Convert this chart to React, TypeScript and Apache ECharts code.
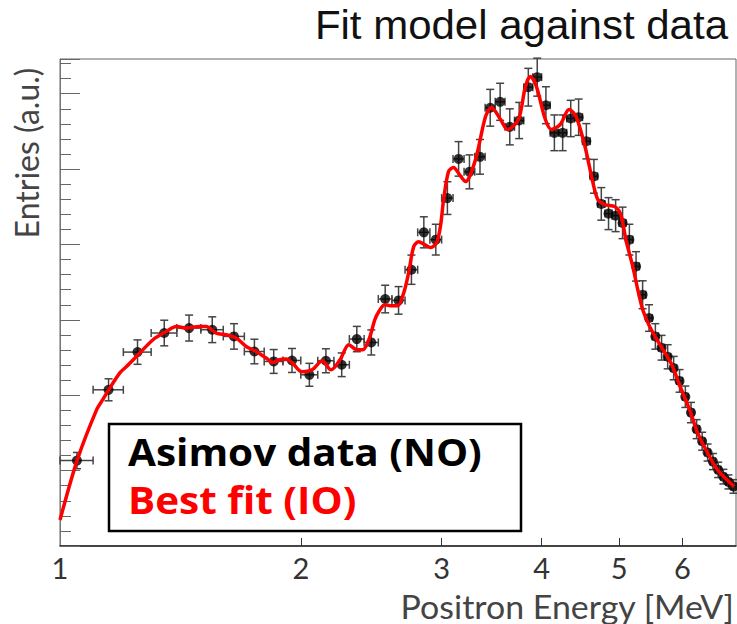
import React, { useEffect, useRef } from "react";
import * as echarts from "echarts";

// Bin centres of the positron energy histogram [MeV]
const energy = [
  1.05, 1.15, 1.25, 1.35, 1.45, 1.55, 1.65, 1.75, 1.85, 1.95,
  2.05, 2.15, 2.25, 2.35, 2.45, 2.55, 2.65, 2.75, 2.85, 2.95,
  3.05, 3.15, 3.25, 3.35, 3.45, 3.55, 3.65, 3.75, 3.85, 3.95,
  4.05, 4.15, 4.25, 4.35, 4.45, 4.55, 4.65, 4.75, 4.85, 4.95,
  5.05, 5.15, 5.25, 5.35, 5.45, 5.55, 5.65, 5.75, 5.85, 5.95,
  6.05, 6.15, 6.25, 6.35, 6.45, 6.55, 6.65, 6.75, 6.85, 6.95,
];
// Asimov data (NO) entries, arbitrary units
const entries = [
  11.33, 20.72, 25.72, 28.25, 28.91, 28.69, 27.8, 25.8, 24.48, 24.61,
  22.71, 24.57, 24.04, 27.45, 27.0, 32.76, 32.58, 36.65, 41.61, 40.64,
  46.15, 51.35, 49.63, 51.62, 58.13, 58.92, 55.6, 56.44, 60.86, 62.19,
  58.47, 54.81, 54.81, 56.71, 56.88, 53.69, 49.04, 45.38, 44.09, 43.82,
  42.86, 40.64, 37.09, 33.33, 30.24, 27.8, 26.3, 25.1, 23.6, 21.9,
  19.8, 17.7, 15.5, 13.9, 12.4, 11.2, 10.1, 9.2, 8.5, 7.9,
];
const entryErr = [
  1.08, 1.46, 1.62, 1.7, 1.72, 1.71, 1.69, 1.63, 1.58, 1.59,
  1.52, 1.59, 1.57, 1.68, 1.66, 1.83, 1.83, 1.94, 2.06, 2.04,
  2.17, 2.29, 2.25, 2.3, 2.44, 2.46, 2.39, 2.4, 2.5, 2.52,
  2.45, 2.37, 2.37, 2.41, 2.41, 2.34, 2.24, 2.16, 2.12, 2.12,
  2.09, 2.04, 1.95, 1.85, 1.76, 1.69, 1.64, 1.6, 1.55, 1.5,
  1.42, 1.35, 1.26, 1.19, 1.13, 1.07, 1.02, 0.97, 0.93, 0.9,
];
const binHalfWidth = 0.05;

// Best fit (IO) model curve
const fitEnergy = [
  1.0, 1.051, 1.111, 1.132, 1.154, 1.188, 1.211, 1.258, 1.307, 1.358,
  1.398, 1.438, 1.494, 1.523, 1.568, 1.613, 1.661, 1.709, 1.759, 1.81,
  1.844, 1.88, 1.917, 1.953, 2.007, 2.066, 2.127, 2.182, 2.239, 2.297,
  2.35, 2.391, 2.433, 2.475, 2.503, 2.547, 2.599, 2.644, 2.69, 2.728,
  2.768, 2.808, 2.857, 2.906, 2.957, 2.991, 3.017, 3.06, 3.104, 3.158,
  3.213, 3.307, 3.404, 3.463, 3.554, 3.626, 3.742, 3.818, 3.873, 3.94,
  4.044, 4.114, 4.221, 4.329, 4.417, 4.532, 4.637, 4.704, 4.8, 4.939,
  5.025, 5.098, 5.201, 5.276, 5.352, 5.461, 5.641, 5.805, 5.972, 6.126,
  6.268, 6.45, 6.638, 6.963,
];
const fitValue = [
  3.45, 11.42, 18.06, 19.48, 20.94, 22.97, 23.81, 25.59, 27.36, 28.46,
  29.12, 28.91, 29.12, 29.12, 28.25, 28.02, 27.58, 26.47, 25.8, 24.93,
  24.34, 24.7, 24.79, 24.26, 23.11, 23.37, 24.57, 23.37, 24.7, 26.69,
  26.03, 26.03, 27.36, 30.01, 31.08, 32.01, 31.87, 31.87, 33.6, 36.25,
  39.71, 40.37, 39.97, 39.58, 40.24, 42.56, 45.95, 49.67, 50.2, 49.27,
  48.34, 51.26, 56.97, 58.17, 56.57, 55.25, 56.57, 60.96, 62.28, 60.96,
  56.57, 55.25, 55.91, 57.9, 56.97, 52.99, 48.21, 45.95, 45.29, 45.02,
  43.96, 40.64, 37.05, 34.0, 31.34, 29.08, 26.47, 24.26, 20.94, 18.06,
  15.01, 12.35, 10.09, 7.88,
];

const xTickValues = [2, 3, 4, 5, 6];
const xLabelValues = [1, 2, 3, 4, 5, 6];

export default function App() {
  const ref = useRef<HTMLDivElement>(null);
  useEffect(() => {
    document.body.style.margin = "0";
    const chart = echarts.init(ref.current as HTMLDivElement, null, { renderer: "svg" });
    const errData = energy.map((e, i) => [e, entries[i], entryErr[i]]);
    chart.setOption({
      animation: false,
      grid: {
        left: 60,
        right: 1,
        top: 59,
        bottom: 78,
        show: true,
        borderColor: "#666",
        borderWidth: 1,
        backgroundColor: "transparent",
      },
      xAxis: {
        type: "log",
        logBase: 10,
        min: 1,
        max: 7,
        axisLine: { show: true, lineStyle: { color: "#222", width: 1.5 } },
        axisTick: {
          show: true,
          inside: true,
          length: 8,
          customValues: xTickValues,
          lineStyle: { color: "#333" },
        },
        axisLabel: {
          customValues: xLabelValues,
          color: "#333",
          fontSize: 29,
          fontFamily: "Lato",
          margin: 7,
          formatter: (v: number) => String(v),
        },
        splitLine: { show: false },
        minorTick: { show: false },
      },
      yAxis: {
        type: "value",
        min: 0,
        max: 64.6,
        interval: 10,
        axisLine: { show: true, lineStyle: { color: "#777" } },
        axisTick: { show: true, inside: true, length: 20, lineStyle: { color: "#666" } },
        minorTick: { show: true, splitNumber: 5, length: 11, lineStyle: { color: "#666" } },
        axisLabel: { show: false },
        splitLine: { show: false },
      },
      series: [
        {
          type: "custom",
          data: errData,
          encode: { x: 0, y: 1 },
          z: 2,
          renderItem: (params: any, api: any) => {
            const x = api.value(0);
            const y = api.value(1);
            const err = api.value(2);
            const lo = api.coord([x, y - err]);
            const hi = api.coord([x, y + err]);
            const l = api.coord([x - binHalfWidth, y]);
            const r = api.coord([x + binHalfWidth, y]);
            const cap = 4;
            const st = { stroke: "#444", lineWidth: 1.5 };
            return {
              type: "group",
              children: [
                { type: "line", shape: { x1: lo[0], y1: lo[1], x2: hi[0], y2: hi[1] }, style: st },
                { type: "line", shape: { x1: lo[0] - cap, y1: lo[1], x2: lo[0] + cap, y2: lo[1] }, style: st },
                { type: "line", shape: { x1: hi[0] - cap, y1: hi[1], x2: hi[0] + cap, y2: hi[1] }, style: st },
                { type: "line", shape: { x1: l[0], y1: l[1], x2: r[0], y2: r[1] }, style: st },
                { type: "line", shape: { x1: l[0], y1: l[1] - cap, x2: l[0], y2: l[1] + cap }, style: st },
                { type: "line", shape: { x1: r[0], y1: r[1] - cap, x2: r[0], y2: r[1] + cap }, style: st },
              ],
            };
          },
        },
        {
          type: "scatter",
          name: "Asimov data (NO)",
          data: energy.map((e, i) => [e, entries[i]]),
          symbol: "circle",
          symbolSize: 10,
          itemStyle: { color: "#000" },
          z: 3,
        },
        {
          type: "line",
          name: "Best fit (IO)",
          data: fitEnergy.map((e, i) => [e, fitValue[i]]),
          smooth: 0.3,
          showSymbol: false,
          lineStyle: { color: "#ff0000", width: 3.5 },
          z: 4,
        },
      ],
      graphic: [
        {
          type: "text",
          x: 728,
          y: 25,
          scaleX: 1.05,
          style: {
            text: "Fit model against data",
            fontFamily: "Liberation Sans",
            fontSize: 40,
            fill: "#111",
            textAlign: "right",
            textVerticalAlign: "middle",
          },
        },
        {
          type: "text",
          x: 26,
          y: 153,
          rotation: Math.PI / 2,
          style: {
            text: "Entries (a.u.)",
            fontFamily: "Lato",
            fontSize: 32,
            fill: "#444",
            textAlign: "center",
            textVerticalAlign: "middle",
          },
        },
        {
          type: "text",
          x: 734,
          y: 606,
          scaleX: 1.06,
          style: {
            text: "Positron Energy [MeV]",
            fontFamily: "Lato",
            fontSize: 32,
            fill: "#444",
            textAlign: "right",
            textVerticalAlign: "middle",
          },
        },
        {
          type: "rect",
          z: 10,
          shape: { x: 109, y: 424, width: 412, height: 107 },
          style: { fill: "#fff", stroke: "#000", lineWidth: 2.5 },
        },
        {
          type: "text",
          z: 11,
          x: 128,
          y: 451,
          scaleX: 1.065,
          style: {
            text: "Asimov data (NO)",
            fontFamily: "Open Sans",
            fontWeight: "bold",
            fontSize: 38,
            fill: "#000",
            textVerticalAlign: "middle",
          },
        },
        {
          type: "text",
          z: 11,
          x: 128,
          y: 499,
          scaleX: 1.065,
          style: {
            text: "Best fit (IO)",
            fontFamily: "Open Sans",
            fontWeight: "bold",
            fontSize: 38,
            fill: "#ff0000",
            textVerticalAlign: "middle",
          },
        },
      ],
    });
    return () => chart.dispose();
  }, []);
  return <div ref={ref} style={{ width: 737, height: 624 }} />;
}
